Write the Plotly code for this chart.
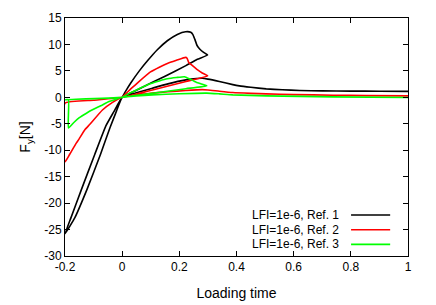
import plotly.graph_objects as go

# ---- data ----
ref1_x = [0, 0.015, 0.03, 0.06, 0.09, 0.123, 0.158, 0.193, 0.222, 0.24, 0.247, 0.254, 0.262, 0.272, 0.285, 0.299,
          0.263, 0.223, 0.15, 0.106, 0.05, 0,
          -0.02, -0.043, -0.076, -0.123, -0.166, -0.2,
          -0.178, -0.143, -0.096, -0.057, -0.03, 0,
          0.05, 0.106, 0.16, 0.223, 0.26, 0.28, 0.3, 0.34, 0.387, 0.41, 0.45, 0.504, 0.56, 0.621, 0.7, 0.8, 0.9, 1.0]
ref1_y = [0, 1.4, 2.7, 5.0, 7.0, 9.0, 10.7, 11.9, 12.4, 12.3, 11.9, 11.0, 9.8, 9.1, 8.5, 8.0,
          7.2, 6.0, 4.0, 2.85, 1.35, 0,
          -2.6, -5.8, -10.8, -17.4, -22.8, -25.8,
          -22.6, -17.5, -10.8, -5.4, -2.8, 0,
          0.85, 1.73, 2.55, 3.3, 3.55, 3.6, 3.45, 3.0, 2.4, 2.17, 1.9, 1.6, 1.42, 1.3, 1.22, 1.18, 1.15, 1.13]

ref2_x = [0, 0.03, 0.053, 0.099, 0.13, 0.158, 0.19, 0.222, 0.227, 0.233, 0.246, 0.264, 0.28, 0.299,
          0.223, 0.106, 0,
          -0.1, -0.2, -0.2,
          -0.185, -0.17, -0.16, -0.151, -0.13, -0.113, -0.069, -0.035, 0,
          0.05, 0.106, 0.16, 0.223, 0.28, 0.3, 0.34, 0.387, 0.45, 0.504, 0.6, 0.738, 0.85, 1.0]
ref2_y = [0, 1.6, 2.7, 4.8, 5.7, 6.4, 7.0, 7.55, 7.4, 6.6, 6.0, 5.2, 4.6, 4.06,
          3.0, 1.4, 0,
          -0.55, -1.1, -12.2,
          -10.9, -9.5, -8.6, -7.9, -6.1, -5.1, -2.4, -1.0, 0,
          0.45, 0.8, 1.05, 1.3, 1.45, 1.4, 1.15, 0.9, 0.75, 0.66, 0.52, 0.4, 0.33, 0.28]

ref3_x = [0, 0.025, 0.05, 0.1, 0.13, 0.158, 0.19, 0.218, 0.235, 0.253, 0.275, 0.296,
          0.223, 0.106, 0,
          -0.2, -0.188, -0.188,
          -0.17, -0.151, -0.125, -0.104, -0.075, -0.046, -0.02, 0,
          0.05, 0.106, 0.2, 0.296, 0.34, 0.387, 0.504, 0.738, 1.0]
ref3_y = [0, 0.75, 1.4, 2.6, 3.1, 3.5, 3.75, 3.9, 3.5, 3.0, 2.55, 2.17,
          1.63, 0.78, 0,
          -0.45, -0.45, -5.8,
          -4.8, -3.9, -3.0, -2.36, -1.6, -0.8, -0.3, 0,
          0.25, 0.47, 0.68, 0.8, 0.66, 0.47, 0.28, 0.09, -0.04]

series_names = ["LFI=1e-6, Ref. 1", "LFI=1e-6, Ref. 2", "LFI=1e-6, Ref. 3"]
series_colors = ["#000000", "#ff0000", "#00ff00"]

x_tickvals = [-0.2, 0, 0.2, 0.4, 0.6, 0.8, 1]
x_ticktext = ["-0.2", "0", "0.2", "0.4", "0.6", "0.8", "1"]
y_tickvals = [-30, -25, -20, -15, -10, -5, 0, 5, 10, 15]
y_ticktext = ["-30", "-25", "-20", "-15", "-10", "-5", "0", "5", "10", "15"]

FONT = "Liberation Sans, Arial, Helvetica, sans-serif"

fig = go.Figure()
for xs, ys, name, col in zip([ref1_x, ref2_x, ref3_x], [ref1_y, ref2_y, ref3_y], series_names, series_colors):
    fig.add_trace(go.Scatter(x=xs, y=ys, mode="lines", name=name,
                             line=dict(color=col, width=1.6, shape="spline", smoothing=0.4),
                             showlegend=False))

# legend drawn gnuplot-style: text on the left, sample line on the right
leg_y = [0.172, 0.110, 0.049]
for name, col, yy in zip(series_names, series_colors, leg_y):
    fig.add_annotation(x=0.805, y=yy, xref="paper", yref="paper", text=name,
                       showarrow=False, xanchor="right", yanchor="middle",
                       font=dict(family=FONT, size=12, color="black"))
    fig.add_shape(type="line", xref="paper", yref="paper", x0=0.834, x1=0.948,
                  y0=yy, y1=yy, line=dict(color=col, width=1.6))

axis_common = dict(showline=True, linecolor="black", linewidth=1, mirror="ticks",
                   ticks="inside", ticklen=5, tickcolor="black", showgrid=False,
                   zeroline=False, automargin=False,
                   tickfont=dict(family=FONT, size=12, color="black"))

fig.update_layout(
    width=436, height=305,
    margin=dict(l=65, r=28, t=18, b=49),
    paper_bgcolor="white", plot_bgcolor="white",
    font=dict(family=FONT, size=12, color="black"),
    xaxis=dict(range=[-0.2, 1], tickvals=x_tickvals, ticktext=x_ticktext,
               title=dict(text="Loading time", standoff=14), **axis_common),
    yaxis=dict(range=[-30, 15], tickvals=y_tickvals, ticktext=y_ticktext,
               title=dict(text="F<sub>y</sub>[N]", standoff=10), **axis_common),
)

fig.write_html("out.html", config={"displayModeBar": False},
               post_script="document.body.style.margin='0';document.body.style.overflow='hidden';")
